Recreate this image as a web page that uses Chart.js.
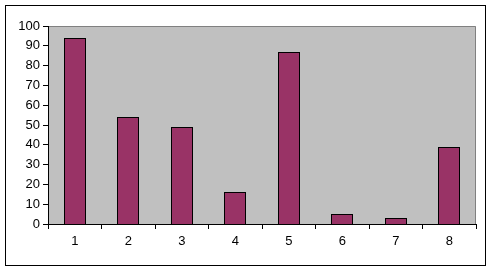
<!DOCTYPE html>
<html>
<head>
<meta charset="utf-8">
<script src="https://cdn.jsdelivr.net/npm/chart.js@4"></script>
<style>
html,body{margin:0;padding:0;background:#fff;}
#wrap{width:492px;height:271px;position:relative;}
</style>
</head>
<body>
<div id="wrap"><canvas id="c" width="492" height="271"></canvas></div>
<script>
const categories = ['1','2','3','4','5','6','7','8'];
const values = [94, 54, 49, 16, 87, 5, 3, 39];
const yTicks = [0,10,20,30,40,50,60,70,80,90,100];

const frame = {
  id: 'frame',
  beforeDraw(chart) {
    const ctx = chart.ctx, a = chart.chartArea;
    ctx.save();
    ctx.fillStyle = '#ffffff';
    ctx.fillRect(0, 0, chart.width, chart.height);
    ctx.strokeStyle = '#000000';
    ctx.lineWidth = 1;
    ctx.strokeRect(5.5, 5.5, 480, 260);
    ctx.fillStyle = '#C0C0C0';
    ctx.fillRect(a.left, a.top, a.right - a.left, a.bottom - a.top);
    ctx.strokeStyle = '#808080';
    ctx.beginPath();
    ctx.moveTo(a.left, a.top + 0.5);
    ctx.lineTo(a.right - 0.5, a.top + 0.5);
    ctx.lineTo(a.right - 0.5, a.bottom);
    ctx.stroke();
    ctx.restore();
  }
};

// crisp, pixel-snapped bars using positions computed by Chart.js
const crispBars = {
  id: 'crispBars',
  afterDatasetsDraw(chart) {
    const ctx = chart.ctx;
    ctx.save();
    chart.getDatasetMeta(0).data.forEach(el => {
      const p = el.getProps(['x', 'y', 'base', 'width'], true);
      const l = Math.round(p.x - p.width / 2);
      const r = Math.round(p.x + p.width / 2);
      const t = Math.round(p.y);
      const b = Math.round(p.base);
      ctx.fillStyle = '#993366';
      ctx.fillRect(l, t, r - l, b - t);
      ctx.strokeStyle = '#000000';
      ctx.lineWidth = 1;
      ctx.strokeRect(l + 0.5, t + 0.5, r - l - 1, b - t);
    });
    ctx.restore();
  }
};

new Chart(document.getElementById('c'), {
  type: 'bar',
  data: {
    labels: categories,
    datasets: [{
      data: values,
      backgroundColor: 'rgba(0,0,0,0)',
      borderWidth: 0,
      categoryPercentage: 1,
      barPercentage: 0.41
    }]
  },
  options: {
    responsive: false,
    animation: false,
    devicePixelRatio: 1,
    layout: { padding: { left: 0, top: 26, right: 16, bottom: 0 } },
    plugins: { legend: { display: false }, tooltip: { enabled: false } },
    scales: {
      x: {
        afterFit(s) { s.height = 47; },
        grid: { offset: true, drawOnChartArea: false, tickLength: 5, color: '#000000' },
        border: { color: '#000000' },
        ticks: { color: '#000000', padding: 5, font: { family: 'Liberation Sans', size: 13 } }
      },
      y: {
        min: 0, max: 100,
        afterFit(s) { s.width = 48; },
        afterBuildTicks(s) { s.ticks = yTicks.map(v => ({ value: v })); },
        grid: { drawOnChartArea: false, tickLength: 5, color: '#000000' },
        border: { color: '#000000' },
        ticks: { color: '#000000', padding: 3, font: { family: 'Liberation Sans', size: 13 } }
      }
    }
  },
  plugins: [frame, crispBars]
});
</script>
</body>
</html>
